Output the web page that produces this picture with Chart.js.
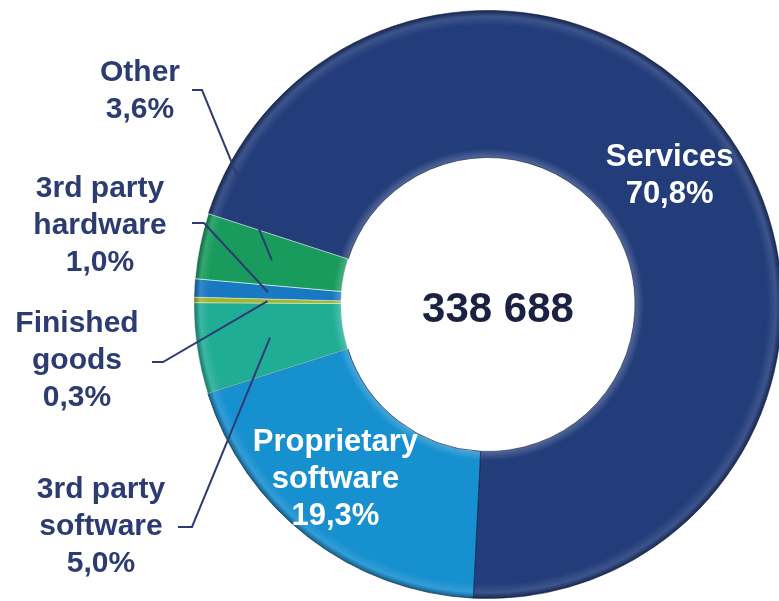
<!DOCTYPE html>
<html>
<head>
<meta charset="utf-8">
<script src="https://cdn.jsdelivr.net/npm/chart.js@4/dist/chart.umd.min.js"></script>
<style>
  html, body { margin: 0; padding: 0; background: #fff; }
  #wrap { width: 779px; height: 601px; position: relative; }
</style>
</head>
<body>
<div id="wrap"><canvas id="revenueChart" width="779" height="601"></canvas></div>
<script>
// revenue split by segment, percent of total
const segments = ['Services', 'Proprietary software', '3rd party software', 'Finished goods', '3rd party hardware', 'Other'];
const shares = [70.8, 19.3, 5.0, 0.3, 1.0, 3.6];
const labelLines = [['Services'], ['Proprietary', 'software'], ['3rd party', 'software'], ['Finished', 'goods'], ['3rd party', 'hardware'], ['Other']];
const totalLabel = '338 688';
const sliceColors = ['#233d7b', '#1790d0', '#20ad96', '#a2b62c', '#1878c2', '#189b5c'];
const sliceEdges = ['rgba(20,30,70,0.6)', 'rgba(15,35,80,0.7)', 'rgba(255,255,255,0.35)', 'rgba(255,255,255,0.4)', 'rgba(255,255,255,0.35)', 'rgba(255,255,255,0.6)'];

const FONT = '"Liberation Sans", Arial, sans-serif';
const LABEL_COLOR = '#2c3c72';
const LINE_STEP = 37;

// outside labels: text centre + leader line elbow; the line ends on the slice centre
const outside = {
  2: { x: 101, y: 490, lineY: 527, x0: 178, x1: 192 },
  3: { x: 77, y: 324, lineY: 362, x0: 152, x1: 163 },
  4: { x: 100, y: 189, lineY: 223, x0: 192, x1: 204 },
  5: { x: 140, y: 73, lineY: 90, x0: 192, x1: 202 }
};
// nudges for the labels written inside the big slices
const insideShift = { 0: { dx: 0, dy: -3 }, 1: { dx: -18, dy: 0 } };

function fmtPct(v) {
  return v.toFixed(1).replace('.', ',') + '%';
}

function mix(hex, target, amt) {
  const n = parseInt(hex.slice(1), 16);
  const t = target === 'white' ? 255 : 0;
  const r = (n >> 16) & 255, g = (n >> 8) & 255, b = n & 255;
  const m = (c) => Math.round(c + (t - c) * amt);
  return `rgb(${m(r)},${m(g)},${m(b)})`;
}

// soft bevel along the inner and outer rims of the ring
function ringFill(ctx) {
  const base = sliceColors[ctx.dataIndex];
  const chart = ctx.chart;
  const ctrl = chart.getDatasetMeta(0).controller;
  if (!chart.chartArea || !ctrl || !ctrl.outerRadius) return base;
  const cx = (chart.chartArea.left + chart.chartArea.right) / 2;
  const cy = (chart.chartArea.top + chart.chartArea.bottom) / 2;
  const g = chart.ctx.createRadialGradient(cx, cy, ctrl.innerRadius, cx, cy, ctrl.outerRadius);
  g.addColorStop(0, mix(base, 'white', 0.22));
  g.addColorStop(0.06, base);
  g.addColorStop(0.9, base);
  g.addColorStop(0.96, mix(base, 'white', 0.12));
  g.addColorStop(1, mix(base, 'black', 0.35));
  return g;
}

const sliceLabels = {
  id: 'sliceLabels',
  afterDatasetsDraw(chart) {
    const { ctx, chartArea } = chart;
    const arcs = chart.getDatasetMeta(0).data;
    ctx.save();
    ctx.textAlign = 'center';
    ctx.textBaseline = 'middle';

    arcs.forEach((arc, i) => {
      const c = arc.getCenterPoint();
      const lines = labelLines[i].concat([fmtPct(shares[i])]);
      const spot = outside[i];
      if (spot) {
        ctx.strokeStyle = LABEL_COLOR;
        ctx.lineWidth = 2;
        ctx.beginPath();
        ctx.moveTo(spot.x0, spot.lineY);
        ctx.lineTo(spot.x1, spot.lineY);
        ctx.lineTo(c.x, c.y);
        ctx.stroke();
        ctx.fillStyle = LABEL_COLOR;
        ctx.font = `bold 30px ${FONT}`;
        lines.forEach((t, k) => ctx.fillText(t, spot.x, spot.y + k * LINE_STEP));
      } else {
        const s = insideShift[i] || { dx: 0, dy: 0 };
        const top = c.y + s.dy - (lines.length - 1) * LINE_STEP / 2;
        ctx.fillStyle = '#ffffff';
        ctx.font = `bold 31px ${FONT}`;
        lines.forEach((t, k) => ctx.fillText(t, c.x + s.dx, top + k * LINE_STEP));
      }
    });

    const cx = (chartArea.left + chartArea.right) / 2;
    const cy = (chartArea.top + chartArea.bottom) / 2;
    ctx.fillStyle = '#1b2140';
    ctx.font = `bold 42px ${FONT}`;
    ctx.fillText(totalLabel, cx + 10, cy + 6);
    ctx.restore();
  }
};

new Chart(document.getElementById('revenueChart'), {
  type: 'doughnut',
  data: {
    labels: segments,
    datasets: [{
      data: shares,
      backgroundColor: ringFill,
      borderColor: sliceEdges,
      borderWidth: 1,
      radius: 294,
      cutout: '50%'
    }]
  },
  options: {
    responsive: false,
    animation: false,
    rotation: -72,
    layout: { padding: { left: 197, right: 0, top: 11, bottom: 3 } },
    plugins: {
      legend: { display: false },
      tooltip: { enabled: false }
    }
  },
  plugins: [sliceLabels]
});
</script>
</body>
</html>
